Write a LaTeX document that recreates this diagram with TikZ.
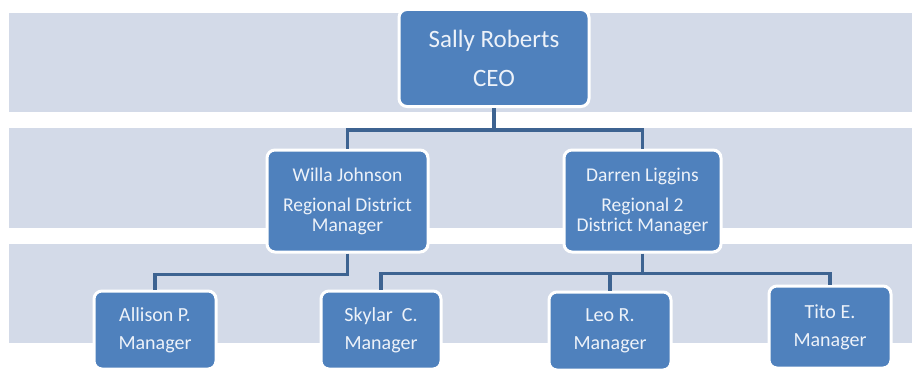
\documentclass[tikz,border=0pt]{standalone}
\usepackage{fontspec}
\setmainfont{Carlito}
\usetikzlibrary{calc,backgrounds}

\definecolor{bandgray}{HTML}{D3DAE8}
\definecolor{boxblue}{HTML}{4F81BD}
\definecolor{linkblue}{HTML}{3D6391}
\definecolor{boxtext}{HTML}{EDF2F9}

\begin{document}
\begin{tikzpicture}[
    x=1pt, y=-1pt,
    person/.style={rectangle, draw=white, line width=3pt, fill=boxblue, rounded corners=8pt, text=boxtext, align=center, inner sep=0pt},
    chief/.style={person, minimum width=190pt, minimum height=97pt, font=\fontsize{25}{39}\selectfont},
    regional/.style={person, minimum height=102pt, font=\fontsize{19.5}{20}\selectfont},
    staff/.style={person, minimum width=122pt, minimum height=78pt, font=\fontsize{20}{28}\selectfont},
    band/.style={fill=bandgray},
    link/.style={draw=linkblue, line width=3.5pt}
]
\useasboundingbox (0,0) rectangle (912,369);

% Top level
\node[chief] (ceo) at (494,58) {Sally Roberts\\CEO};

% Regional managers
\node[regional, minimum width=161pt] (willa) at (347.5,201) {Willa Johnson\\[10pt]Regional District\\Manager};
\node[regional, minimum width=157pt] (darren) at (642.5,201) {Darren Liggins\\[10pt]Regional 2\\District Manager};

% Managers
\node[staff] (allison) at (155,330) {Allison P.\\Manager};
\node[staff, minimum width=120pt] (skylar) at (381,330) {Skylar~ C.\\Manager};
\node[staff] (leo) at (610,331) {Leo R.\\Manager};
\node[staff, minimum height=82pt] (tito) at (830,327) {Tito E.\\Manager};

% Links
\coordinate (topbus) at ($(ceo.south)+(0,22)$);
\coordinate (wbus) at ($(willa.south)+(0,21)$);
\coordinate (dbus) at ($(darren.south)+(0,20)$);

\draw[link] (ceo.south) -- (topbus);
\draw[link] (topbus) -| (willa.north);
\draw[link] (topbus) -| (darren.north);

\draw[link] (willa.south) -- (wbus) -| (allison.north);

\draw[link] (darren.south) -- (dbus);
\draw[link] (dbus) -| (skylar.north);
\draw[link] (dbus) -| (leo.north);
\draw[link] (dbus) -| (tito.north);

% Level bands
\begin{scope}[on background layer]
    \fill[band] (9,13) rectangle (912,112);
    \fill[band] (9,128) rectangle (912,228);
    \fill[band] (9,244) rectangle (912,343);
\end{scope}

\end{tikzpicture}
\end{document}
